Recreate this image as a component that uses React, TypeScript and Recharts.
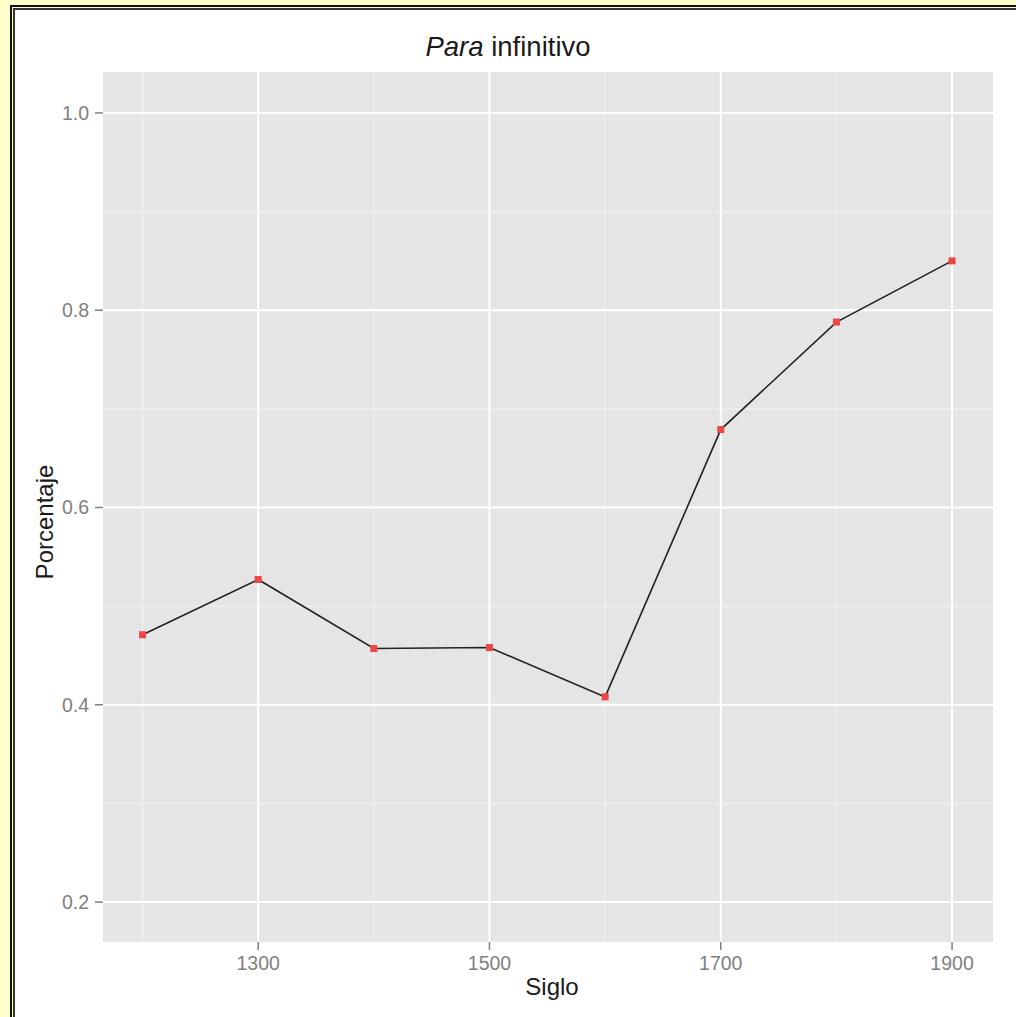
import { LineChart, Line, XAxis, YAxis, CartesianGrid, Label } from "recharts";

// siglo vs porcentaje
const siglos = [1200, 1300, 1400, 1500, 1600, 1700, 1800, 1900];
const porcentajes = [0.471, 0.527, 0.457, 0.458, 0.408, 0.679, 0.788, 0.850];

const xTicks = [1300, 1500, 1700, 1900];
const xMinor = [1200, 1400, 1600, 1800];
const yTicks = [0.2, 0.4, 0.6, 0.8, 1.0];
const yMinor = [0.3, 0.5, 0.7, 0.9];

const data = siglos.map((s, i) => ({ siglo: s, pct: porcentajes[i] }));

const FONT = "'Liberation Sans', Arial, Helvetica, sans-serif";
const TICK_COLOR = "#7f7f7f";

const Square = (props: any) => {
  const { cx, cy } = props;
  if (cx == null || cy == null) return null;
  return <rect x={cx - 3.5} y={cy - 3.5} width={7} height={7} fill="#ee4545" />;
};

export default function App() {
  return (
    <div style={{ position: "absolute", left: 0, top: 0, width: 1016, height: 1017, overflow: "hidden", background: "#ffffcc", fontFamily: FONT }}>
      <div style={{ position: "absolute", left: 10, top: 5, width: 1100, height: 1100, borderLeft: "2px solid #111", borderTop: "2px solid #111" }} />
      <div style={{ position: "absolute", left: 13, top: 8, width: 1100, height: 1100, borderLeft: "2px solid #333", borderTop: "2px solid #333", background: "#fff" }} />
      <div style={{ position: "absolute", left: 0, top: 0 }}>
        <LineChart width={1016} height={1017} data={data} margin={{ top: 72, right: 23, bottom: 15, left: 23 }}>
          <CartesianGrid fill="#e5e5e5" stroke="#f2f2f2" strokeWidth={1} horizontalValues={yMinor} verticalValues={xMinor} />
          <CartesianGrid stroke="#ffffff" strokeWidth={2} horizontalValues={yTicks} verticalValues={xTicks} />
          <XAxis
            dataKey="siglo"
            type="number"
            domain={[1165.8, 1935.4]}
            ticks={xTicks}
            allowDataOverflow
            height={60}
            axisLine={false}
            tickSize={8}
            tickMargin={6}
            tickLine={{ stroke: TICK_COLOR, strokeWidth: 1.5 }}
            tick={{ fill: TICK_COLOR, fontSize: 19.5, fontFamily: FONT }}
          >
            <Label
              content={() => (
                <text x={552} y={995} textAnchor="middle" fontSize={24} fill="#1a1a1a" fontFamily={FONT}>
                  Siglo
                </text>
              )}
            />
          </XAxis>
          <YAxis
            type="number"
            domain={[0.1595, 1.0415]}
            ticks={yTicks}
            allowDataOverflow
            width={80}
            axisLine={false}
            tickSize={8}
            tickMargin={6}
            tickLine={{ stroke: TICK_COLOR, strokeWidth: 1.5 }}
            tick={{ fill: TICK_COLOR, fontSize: 19.5, fontFamily: FONT }}
            tickFormatter={(v: number) => v.toFixed(1)}
          >
            <Label
              content={() => (
                <text x={53} y={522} transform="rotate(-90 53 522)" textAnchor="middle" fontSize={24} fill="#1a1a1a" fontFamily={FONT}>
                  Porcentaje
                </text>
              )}
            />
          </YAxis>
          <Line
            dataKey="pct"
            type="linear"
            stroke="#222"
            strokeWidth={1.6}
            dot={<Square />}
            activeDot={false}
            isAnimationActive={false}
          />
          <text x={508} y={56} textAnchor="middle" fontSize={27.5} fill="#1a1a1a" fontFamily={FONT}>
            <tspan fontStyle="italic">Para</tspan> infinitivo
          </text>
        </LineChart>
      </div>
    </div>
  );
}
